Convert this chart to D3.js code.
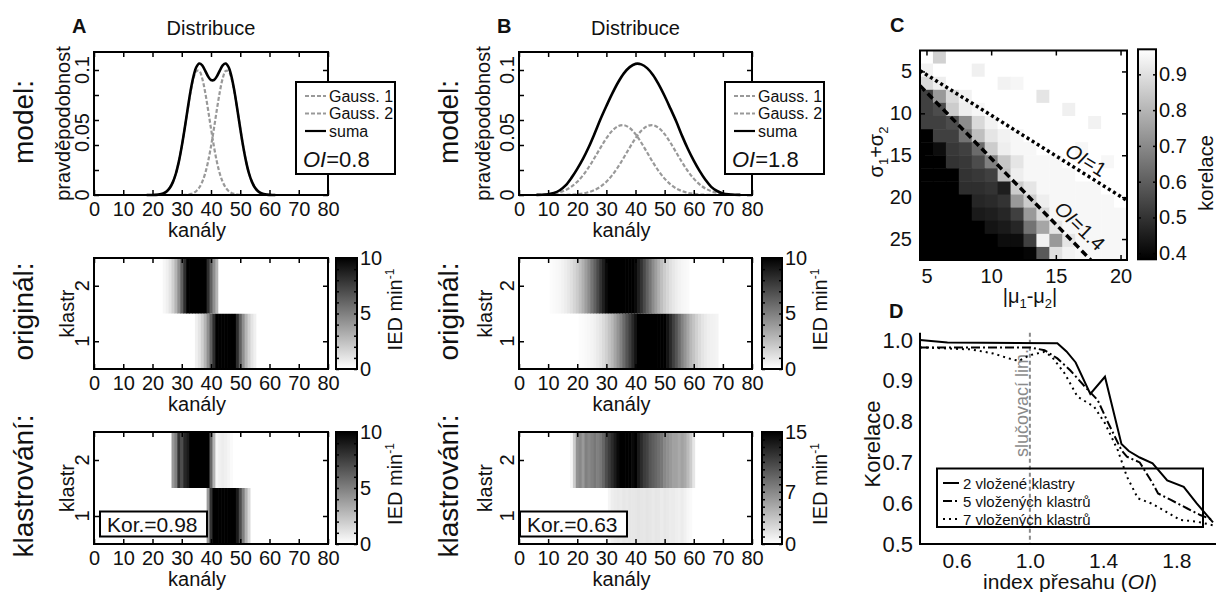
<!DOCTYPE html>
<html>
<head>
<meta charset="utf-8">
<script src="https://cdn.jsdelivr.net/npm/d3@7"></script>
<style>
  body { margin: 0; background: #fff; }
  svg text { font-family: "Liberation Sans", Arial, Helvetica, sans-serif; fill: #111; }
</style>
</head>
<body>
<svg id="fig" width="1218" height="592"></svg>
<script>
const FONT = '"Liberation Sans", Arial, Helvetica, sans-serif';

// ---- A / B: model distributions (pravděpodobnost per kanál) ----
const chanCurveA = d3.range(18, 63);
const gaussA1 = [0, 0, 0, 0.0001, 0.0003, 0.0008, 0.0016, 0.0032, 0.0060, 0.0105, 0.0172, 0.0267, 0.0389, 0.0531, 0.0682,
  0.0823, 0.0932, 0.0992, 0.0992, 0.0932, 0.0823, 0.0682, 0.0531, 0.0389, 0.0267, 0.0172, 0.0105, 0.0060, 0.0032, 0.0016,
  0.0008, 0.0003, 0.0001, 0, 0, 0, 0, 0, 0, 0, 0, 0, 0, 0, 0];
const gaussA2 = [0, 0, 0, 0, 0, 0, 0, 0, 0, 0, 0, 0, 0, 0.0001, 0.0003, 0.0008, 0.0016, 0.0032, 0.0060, 0.0105, 0.0172,
  0.0267, 0.0389, 0.0531, 0.0682, 0.0823, 0.0932, 0.0992, 0.0992, 0.0932, 0.0823, 0.0682, 0.0531, 0.0389, 0.0267, 0.0172,
  0.0105, 0.0060, 0.0032, 0.0016, 0.0008, 0.0003, 0.0001, 0, 0];
const sumA = [0, 0, 0, 0.0001, 0.0003, 0.0008, 0.0016, 0.0032, 0.0060, 0.0105, 0.0172, 0.0267, 0.0389, 0.0532, 0.0685,
  0.0831, 0.0948, 0.1024, 0.1052, 0.1037, 0.0995, 0.0949, 0.0920, 0.0920, 0.0949, 0.0995, 0.1037, 0.1052, 0.1024, 0.0948,
  0.0831, 0.0685, 0.0532, 0.0389, 0.0267, 0.0172, 0.0105, 0.0060, 0.0032, 0.0016, 0.0008, 0.0003, 0.0001, 0, 0];

const chanCurveB = d3.range(6, 77, 2);
const gaussB1 = [0.0001, 0.0003, 0.0006, 0.0012, 0.0023, 0.0040, 0.0067, 0.0106, 0.0159, 0.0224, 0.0300, 0.0379, 0.0454,
  0.0514, 0.0551, 0.0559, 0.0536, 0.0487, 0.0418, 0.0340, 0.0261, 0.0190, 0.0131, 0.0085, 0.0052, 0.0031, 0.0017, 0.0009,
  0.0004, 0.0002, 0.0001, 0, 0, 0, 0, 0];
const gaussB2 = [0, 0, 0, 0, 0.0001, 0.0001, 0.0003, 0.0006, 0.0012, 0.0023, 0.0040, 0.0067, 0.0106, 0.0159, 0.0224,
  0.0300, 0.0379, 0.0454, 0.0514, 0.0551, 0.0559, 0.0536, 0.0487, 0.0418, 0.0340, 0.0261, 0.0190, 0.0131, 0.0085, 0.0052,
  0.0031, 0.0017, 0.0009, 0.0004, 0.0002, 0.0001];
const sumB = [0.0001, 0.0002, 0.0006, 0.0016, 0.0038, 0.0077, 0.0137, 0.0209, 0.0291, 0.0386, 0.0494, 0.0608, 0.0712,
  0.0811, 0.0900, 0.0973, 0.1023, 0.1049, 0.1045, 0.1015, 0.0960, 0.0883, 0.0792, 0.0691, 0.0588, 0.0473, 0.0368, 0.0275,
  0.0193, 0.0122, 0.0065, 0.0032, 0.0013, 0.0005, 0.0002, 0.0001];

// ---- A / B: IED min^-1 per kanál, klastr 1 and klastr 2 ----
const chanHeatA = d3.range(20, 61);
const origA1 = [0, 0, 0, 0, 0, 0, 0, 0, 0, 0, 0, 0, 0, 0, 0, 0.59, 1.07, 1.83, 2.92, 4.38, 6.18, 8.19, 10.19, 11.9, 13.1,
  13.5, 13.1, 11.9, 10.2, 8.2, 6.2, 4.4, 2.9, 1.83, 1.07, 0.59, 0, 0, 0, 0, 0];
const origA2 = [0, 0, 0, 0, 0.31, 0.59, 1.07, 1.83, 2.92, 4.38, 6.18, 8.19, 10.19, 11.9, 13.1, 13.5, 13.1, 11.9, 10.2, 8.2,
  6.2, 4.4, 2.9, 0, 0, 0, 0, 0, 0, 0, 0, 0, 0, 0, 0, 0, 0, 0, 0, 0, 0];
const klastA1 = [0, 0, 0, 0, 0, 0, 0, 0, 0, 0, 0, 0, 0, 0, 0, 0, 0, 0, 0, 4, 8, 12, 12, 12, 12, 12, 12, 12, 11, 9, 7, 5, 3,
  1.5, 0, 0, 0, 0, 0, 0, 0];
const klastA2 = [0, 0, 0, 0, 0, 0, 0, 4, 5, 8, 7, 8.5, 9, 10.5, 12, 12, 12, 12, 12, 10, 6, 3, 0.4, 0.6, 0.7, 0.6, 0.4, 0.2,
  0, 0, 0, 0, 0, 0, 0, 0, 0, 0, 0, 0, 0];

const chanHeatB = d3.range(8, 73);
const origB1 = [0, 0, 0, 0, 0, 0, 0, 0, 0, 0, 0, 0, 0, 0.11, 0.16, 0.22, 0.32, 0.44, 0.6, 0.81, 1.07, 1.4, 1.8, 2.3, 2.8,
  3.5, 4.2, 4.9, 5.8, 6.7, 7.5, 8.4, 9.2, 10.0, 10.6, 11.1, 11.5, 11.7, 11.7, 11.5, 11.1, 10.6, 10.0, 9.2, 8.4, 7.5, 6.7,
  5.8, 4.9, 4.2, 3.5, 2.8, 2.3, 1.8, 1.4, 1.07, 0.81, 0.62, 0.55, 0.5, 0.45, 0, 0, 0, 0];
const origB2 = [0, 0, 0, 0.13, 0.19, 0.27, 0.37, 0.51, 0.7, 0.93, 1.2, 1.6, 2.0, 2.5, 3.1, 3.8, 4.5, 5.4, 6.2, 7.1, 8.0,
  8.8, 9.6, 10.3, 10.9, 11.3, 11.6, 11.7, 11.6, 11.3, 10.9, 10.3, 9.6, 8.8, 8.0, 7.1, 6.2, 5.4, 4.5, 3.8, 3.1, 2.5, 2.0,
  1.6, 1.2, 0.93, 0.7, 0.51, 0.37, 0.27, 0.19, 0, 0, 0, 0, 0, 0, 0, 0, 0, 0, 0, 0, 0, 0];
const klastB1 = [0, 0, 0, 0, 0, 0, 0, 0, 0, 0, 0, 0, 0, 0, 0, 0, 0, 0, 0, 0, 0, 0, 0, 0.6, 1.0, 1.2, 1.3, 1.2, 1.4, 1.3,
  1.5, 1.4, 1.5, 1.6, 1.5, 1.4, 1.6, 1.5, 1.3, 1.5, 1.4, 1.2, 1.4, 1.3, 1.1, 1.2, 1.0, 0.9, 1.1, 0.8, 0.5, 0.3, 0, 0, 0,
  0, 0, 0, 0, 0, 0, 0, 0, 0, 0];
const klastB2 = [0, 0, 0, 0, 0, 0, 0, 0, 0, 0, 0.5, 3, 6.5, 7, 6, 7.5, 7, 7.5, 8, 7.5, 8, 9, 10.5, 11.5, 12.5, 13.5, 14.5,
  15, 15, 15, 15, 14.5, 15, 13.5, 12.5, 11.5, 11, 10, 9.5, 9, 8.5, 8, 7, 6.5, 6, 5.5, 5.5, 5, 5.5, 5, 4, 3, 1.5, 0, 0, 0,
  0, 0, 0, 0, 0, 0, 0, 0, 0];

const channelTicks = [0, 10, 20, 30, 40, 50, 60, 70, 80];
const probLabels = [0, 0.05, 0.1];
const probMarks = [0, 0.02, 0.04, 0.06, 0.08, 0.1];
const clusterTicks = [1, 2];
const iedLabelsA = [0, 5, 10];
const iedLabelsB = [0, 7, 15];

// ---- C: korelace vs |mu1-mu2| and sigma1+sigma2 ----
const muDiff = [5, 6, 7, 8, 9, 10, 11, 12, 13, 14, 15, 16, 17, 18, 19, 20];
const sigmaSum = [3.28, 4.84, 6.41, 7.97, 9.53, 11.09, 12.66, 14.22, 15.78, 17.34, 18.91, 20.47, 22.03, 23.59, 25.16, 26.72];
const korelace = [
  [0.97, 0.864, 0.97, 0.97, 0.97, 0.97, 0.97, 0.97, 0.97, 0.97, 0.97, 0.97, 0.97, 0.97, 0.97, 0.97],
  [0.94, 0.97, 0.97, 0.97, 0.935, 0.97, 0.97, 0.97, 0.97, 0.97, 0.97, 0.97, 0.97, 0.97, 0.97, 0.97],
  [0.882, 0.93, 0.97, 0.97, 0.97, 0.97, 0.941, 0.95, 0.97, 0.97, 0.97, 0.97, 0.97, 0.97, 0.97, 0.97],
  [0.53, 0.735, 0.882, 0.941, 0.97, 0.97, 0.97, 0.97, 0.97, 0.911, 0.97, 0.97, 0.97, 0.97, 0.97, 0.97],
  [0.53, 0.559, 0.853, 0.93, 0.952, 0.97, 0.97, 0.97, 0.97, 0.97, 0.97, 0.935, 0.97, 0.97, 0.97, 0.97],
  [0.53, 0.53, 0.559, 0.706, 0.882, 0.941, 0.97, 0.97, 0.97, 0.97, 0.97, 0.97, 0.97, 0.941, 0.97, 0.97],
  [0.38, 0.53, 0.53, 0.647, 0.823, 0.911, 0.941, 0.952, 0.97, 0.97, 0.97, 0.97, 0.97, 0.97, 0.97, 0.97],
  [0.38, 0.412, 0.512, 0.53, 0.63, 0.853, 0.93, 0.952, 0.952, 0.97, 0.97, 0.97, 0.952, 0.97, 0.97, 0.97],
  [0.38, 0.38, 0.5, 0.512, 0.559, 0.677, 0.84, 0.911, 0.952, 0.952, 0.952, 0.97, 0.97, 0.97, 0.952, 0.97],
  [0.38, 0.38, 0.38, 0.5, 0.512, 0.53, 0.823, 0.93, 0.952, 0.952, 0.952, 0.952, 0.97, 0.97, 0.97, 0.97],
  [0.38, 0.38, 0.38, 0.489, 0.489, 0.5, 0.453, 0.853, 0.911, 0.952, 0.952, 0.952, 0.952, 0.952, 0.97, 0.97],
  [0.38, 0.38, 0.38, 0.38, 0.471, 0.48, 0.5, 0.735, 0.853, 0.93, 0.952, 0.952, 0.952, 0.952, 0.952, 0.97],
  [0.38, 0.38, 0.38, 0.38, 0.442, 0.453, 0.471, 0.53, 0.735, 0.882, 0.952, 0.952, 0.952, 0.952, 0.952, 0.952],
  [0.38, 0.38, 0.38, 0.38, 0.38, 0.43, 0.442, 0.471, 0.647, 0.765, 0.911, 0.952, 0.952, 0.952, 0.952, 0.952],
  [0.38, 0.38, 0.38, 0.38, 0.38, 0.38, 0.412, 0.412, 0.53, 0.941, 0.735, 0.911, 0.952, 0.952, 0.952, 0.952],
  [0.38, 0.38, 0.38, 0.38, 0.38, 0.38, 0.38, 0.38, 0.395, 0.588, 0.899, 0.941, 0.952, 0.952, 0.952, 0.952]
];
const cXTicks = [5, 10, 15, 20];
const cYTicks = [5, 10, 15, 20, 25];
const cBarTicks = [0.4, 0.5, 0.6, 0.7, 0.8, 0.9];
const oi1X = [4.5, 20.5], oi1Y = [4.9, 20.4];
const oi14X = [4.5, 17.7], oi14Y = [6.7, 27.5];

// ---- D: korelace vs index přesahu ----
const solidX = [0.4, 0.55, 1.15, 1.2, 1.25, 1.33, 1.41, 1.5, 1.54, 1.6, 1.67, 1.75, 1.84, 1.91, 2.0];
const solidY = [1.0, 0.994, 0.992, 0.972, 0.945, 0.868, 0.91, 0.745, 0.728, 0.712, 0.698, 0.656, 0.64, 0.6, 0.553];
const dashX = [0.4, 1.0, 1.08, 1.15, 1.22, 1.3, 1.37, 1.42, 1.5, 1.53, 1.6, 1.67, 1.7, 1.77, 1.86, 1.93, 2.0];
const dashY = [0.982, 0.982, 0.975, 0.955, 0.926, 0.886, 0.853, 0.804, 0.73, 0.714, 0.70, 0.649, 0.624, 0.608, 0.587, 0.571, 0.559];
const dotX = [0.4, 0.68, 0.8, 0.9, 0.94, 1.0, 1.08, 1.12, 1.19, 1.26, 1.35, 1.41, 1.48, 1.53, 1.59, 1.66, 1.73, 1.82, 1.91, 2.0];
const dotY = [0.982, 0.977, 0.967, 0.953, 0.949, 0.963, 0.971, 0.959, 0.918, 0.861, 0.837, 0.796, 0.73, 0.665, 0.612, 0.60, 0.583, 0.559, 0.555, 0.546];
const dXTicks = [0.6, 1.0, 1.4, 1.8];
const dYTicks = [0.5, 0.6, 0.7, 0.8, 0.9, 1.0];
const mergeLimit = 1.0;

const svg = d3.select("#fig");
const defs = svg.append("defs");

function box(g, x0, y0, x1, y1, fill) {
  return g.append("rect").attr("x", x0).attr("y", y0).attr("width", x1 - x0).attr("height", y1 - y0)
    .attr("fill", fill || "none").attr("stroke", "#000").attr("stroke-width", 2);
}

function innerTicks(g, scale, orient, pos, values, len) {
  const make = { bottom: d3.axisBottom, top: d3.axisTop, left: d3.axisLeft, right: d3.axisRight }[orient];
  const horiz = orient === "bottom" || orient === "top";
  const a = g.append("g")
    .attr("transform", horiz ? `translate(0,${pos})` : `translate(${pos},0)`)
    .call(make(scale).tickValues(values).tickSize(-len).tickFormat(""));
  a.select(".domain").remove();
  a.selectAll("line").attr("stroke", "#000").attr("stroke-width", 1.5);
}

function labelAxis(g, axis, transform, size) {
  const a = g.append("g").attr("transform", transform).call(axis);
  a.attr("font-family", FONT).attr("font-size", size);
  a.select(".domain").remove();
  a.selectAll("text").attr("fill", "#111");
  return a;
}

function vtext(g, x, y, size) {
  return g.append("text").attr("transform", `translate(${x},${y}) rotate(-90)`)
    .attr("text-anchor", "middle").attr("dy", "0.35em").attr("font-size", size);
}

function colorbar(g, id, x0, x1, y0, y1, dom, colors, labels, marks, fmt) {
  const grad = defs.append("linearGradient").attr("id", id)
    .attr("x1", 0).attr("y1", 1).attr("x2", 0).attr("y2", 0);
  grad.append("stop").attr("offset", 0).attr("stop-color", colors[0]);
  grad.append("stop").attr("offset", 1).attr("stop-color", colors[1]);
  g.append("rect").attr("x", x0).attr("y", y0).attr("width", x1 - x0).attr("height", y1 - y0)
    .attr("fill", `url(#${id})`);
  const cy = d3.scaleLinear().domain(dom).range([y1, y0]);
  innerTicks(g, cy, "left", x0, marks, 3);
  innerTicks(g, cy, "right", x1, marks, 3);
  box(g, x0, y0, x1, y1);
  labelAxis(g, d3.axisRight(cy).tickValues(labels).tickSize(0).tickPadding(3).tickFormat(fmt),
    `translate(${x1},0)`, 20);
}

const rowTop = { y0: 52, y1: 195 };
const rowMid = { y0: 258, y1: 369 };
const rowBot = { y0: 432, y1: 544 };

const panels = [
  { letter: "A", left: 94, right: 328, chanC: chanCurveA, g1: gaussA1, g2: gaussA2, sum: sumA, oi: "0.8", legX: 296,
    chanH: chanHeatA, orig: [origA1, origA2], klast: [klastA1, klastA2], klastMax: 10, klastLabels: iedLabelsA,
    kor: "0.98", korX: 100, cb: [336, 357], ylabTop: 63, ylabHeat: 67 },
  { letter: "B", left: 519, right: 752, chanC: chanCurveB, g1: gaussB1, g2: gaussB2, sum: sumB, oi: "1.8", legX: 725,
    chanH: chanHeatB, orig: [origB1, origB2], klast: [klastB1, klastB2], klastMax: 15, klastLabels: iedLabelsB,
    kor: "0.63", korX: 520, cb: [762, 782], ylabTop: 483, ylabHeat: 485 }
];

function channelAxes(g, p, x, row, xlabel) {
  innerTicks(g, x, "bottom", row.y1, channelTicks, 5);
  innerTicks(g, x, "top", row.y0, channelTicks, 5);
  labelAxis(g, d3.axisBottom(x).tickValues(channelTicks).tickSize(0).tickPadding(7), `translate(0,${row.y1})`, 20);
  if (xlabel) {
    g.append("text").attr("x", (p.left + p.right) / 2 - 14).attr("y", row.y1 + 42)
      .attr("text-anchor", "middle").attr("font-size", 20).text("kanály");
  }
}

function heatRow(g, p, x, row, series, vmax, title, cbId, labels, korText) {
  const y = d3.scaleLinear().domain([0.5, 2.5]).range([row.y1, row.y0]);
  const color = d3.scaleLinear().domain([0, vmax]).range(["#fff", "#000"]).clamp(true);
  const cw = x(1) - x(0);
  series.forEach((vals, k) => {
    g.append("g").selectAll("rect").data(d3.zip(p.chanH, vals)).join("rect")
      .attr("x", d => x(d[0] - 0.5)).attr("width", cw + 0.6)
      .attr("y", y(k + 1.5)).attr("height", y(k + 0.5) - y(k + 1.5))
      .attr("fill", d => color(d[1]));
  });
  box(g, p.left, row.y0, p.right, row.y1);
  innerTicks(g, y, "left", p.left, clusterTicks, 5);
  innerTicks(g, y, "right", p.right, clusterTicks, 5);
  channelAxes(g, p, x, row, true);
  clusterTicks.forEach(v => vtext(g, p.left - 12, y(v), 20).text(v));
  vtext(g, p.ylabHeat, (row.y0 + row.y1) / 2, 20).text("klastr");
  vtext(g, p.left - 71, (row.y0 + row.y1) / 2 - 2, 28).text(title);
  const ticksAll = d3.range(0, vmax + 1);
  colorbar(g, cbId, p.cb[0], p.cb[1], row.y0, row.y1, [0, vmax], ["#fff", "#000"], labels, ticksAll, d3.format("d"));
  const lab = vtext(g, p.cb[1] + 38, (row.y0 + row.y1) / 2 - 4, 20).text("IED min");
  lab.append("tspan").attr("dy", -8).attr("font-size", 12).text("-1");
  if (korText) {
    box(g, p.korX, row.y1 - 32.5, p.korX + 107, row.y1 - 7.5, "#fff");
    g.append("text").attr("x", p.korX + 7).attr("y", row.y1 - 12).attr("font-size", 21).text("Kor.=" + korText);
  }
}

panels.forEach(p => {
  const g = svg.append("g");
  const x = d3.scaleLinear().domain([0, 80]).range([p.left, p.right]);

  // distribution
  const y = d3.scaleLinear().domain([0, 0.1144]).range([rowTop.y1, rowTop.y0]);
  const line = d3.line().x(d => x(d[0])).y(d => y(d[1])).curve(d3.curveCatmullRom);
  [p.g1, p.g2].forEach(s => {
    g.append("path").attr("d", line(d3.zip(p.chanC, s))).attr("fill", "none")
      .attr("stroke", "#999").attr("stroke-width", 2.2).attr("stroke-dasharray", "4,2");
  });
  g.append("path").attr("d", line(d3.zip(p.chanC, p.sum))).attr("fill", "none")
    .attr("stroke", "#000").attr("stroke-width", 2.6);
  box(g, p.left, rowTop.y0, p.right, rowTop.y1);
  innerTicks(g, y, "left", p.left, probMarks, 5);
  innerTicks(g, y, "right", p.right, probMarks, 5);
  channelAxes(g, p, x, rowTop, true);
  probLabels.forEach(v => vtext(g, p.left - 12, y(v), 20).text(v));
  vtext(g, p.ylabTop, (rowTop.y0 + rowTop.y1) / 2, 20).text("pravděpodobnost");
  vtext(g, p.left - 71, 122, 28).text("model:");
  g.append("text").attr("x", (p.left + p.right) / 2).attr("y", 35).attr("text-anchor", "middle")
    .attr("font-size", 20).text("Distribuce");
  g.append("text").attr("x", p.left - 22).attr("y", 33).attr("font-size", 20).attr("font-weight", "bold").text(p.letter);

  // legend
  const lx = p.legX, ly = 82;
  box(g, lx, ly, lx + 99, ly + 92, "#fff");
  const items = [["Gauss. 1", "#999", "4,2"], ["Gauss. 2", "#999", "4,2"], ["suma", "#000", null]];
  items.forEach((it, i) => {
    const yy = 96 + i * 17.5;
    g.append("line").attr("x1", lx + 9).attr("x2", lx + 30).attr("y1", yy).attr("y2", yy)
      .attr("stroke", it[1]).attr("stroke-width", 2.2).attr("stroke-dasharray", it[2]);
    g.append("text").attr("x", lx + 33).attr("y", yy + 5.5).attr("font-size", 16).text(it[0]);
  });
  const oiT = g.append("text").attr("x", lx + 7).attr("y", 167).attr("font-size", 22);
  oiT.append("tspan").attr("font-style", "italic").text("OI");
  oiT.append("tspan").text("=" + p.oi);

  heatRow(g, p, x, rowMid, p.orig, 10, "originál:", "cbo" + p.letter, iedLabelsA, null);
  heatRow(g, p, x, rowBot, p.klast, p.klastMax, "klastrování:", "cbk" + p.letter, p.klastLabels, p.kor);
});

// ---- panel C ----
(function () {
  const g = svg.append("g");
  const L = 920, R = 1127, T = 50.5, Bt = 260;
  const x = d3.scaleLinear().domain([4.5, 20.5]).range([L, R]);
  const y = d3.scaleLinear().domain([2.5, 27.5]).range([T, Bt]);
  const color = d3.scaleLinear().domain([0.383, 0.97]).range(["#000", "#fff"]).clamp(true);
  const dh = sigmaSum[1] - sigmaSum[0];
  const cells = [];
  korelace.forEach((row, r) => row.forEach((v, c) => cells.push({ mx: muDiff[c], sy: sigmaSum[r], v })));
  g.append("g").selectAll("rect").data(cells).join("rect")
    .attr("x", d => x(d.mx - 0.5)).attr("width", x(1) - x(0) + 0.5)
    .attr("y", d => y(d.sy - dh / 2)).attr("height", y(dh) - y(0) + 0.5)
    .attr("fill", d => color(d.v));

  defs.append("clipPath").attr("id", "clipC").append("rect")
    .attr("x", L).attr("y", T).attr("width", R - L).attr("height", Bt - T);
  const line = d3.line().x(d => x(d[0])).y(d => y(d[1]));
  g.append("path").attr("d", line(d3.zip(oi1X, oi1Y))).attr("clip-path", "url(#clipC)")
    .attr("stroke", "#000").attr("stroke-width", 3.5).attr("stroke-dasharray", "3,3").attr("fill", "none");
  g.append("path").attr("d", line(d3.zip(oi14X, oi14Y))).attr("clip-path", "url(#clipC)")
    .attr("stroke", "#000").attr("stroke-width", 3.5).attr("stroke-dasharray", "7,4").attr("fill", "none");

  const t1 = g.append("text").attr("transform", "translate(1086,160) rotate(32)")
    .attr("text-anchor", "middle").attr("dy", "0.35em").attr("font-size", 20);
  t1.append("tspan").attr("font-style", "italic").text("OI");
  t1.append("tspan").text("=1");
  const t2 = g.append("text").attr("transform", "translate(1080,226) rotate(44)")
    .attr("text-anchor", "middle").attr("dy", "0.35em").attr("font-size", 20);
  t2.append("tspan").attr("font-style", "italic").text("OI");
  t2.append("tspan").text("=1.4");

  box(g, L, T, R, Bt);
  innerTicks(g, x, "bottom", Bt, cXTicks, 5);
  innerTicks(g, x, "top", T, cXTicks, 5);
  innerTicks(g, y, "left", L, cYTicks, 5);
  innerTicks(g, y, "right", R, cYTicks, 5);
  labelAxis(g, d3.axisBottom(x).tickValues(cXTicks).tickSize(0).tickPadding(9), `translate(0,${Bt})`, 20);
  labelAxis(g, d3.axisLeft(y).tickValues(cYTicks).tickSize(0).tickPadding(8), `translate(${L},0)`, 20);

  const xl = g.append("text").attr("x", 1030).attr("y", 303).attr("text-anchor", "middle").attr("font-size", 20).text("|μ");
  xl.append("tspan").attr("dy", 5).attr("font-size", 13).text("1");
  xl.append("tspan").attr("dy", -5).attr("font-size", 20).text("-μ");
  xl.append("tspan").attr("dy", 5).attr("font-size", 13).text("2");
  xl.append("tspan").attr("dy", -5).attr("font-size", 20).text("|");
  const yl = vtext(g, 876, 152, 20).text("σ");
  yl.append("tspan").attr("dy", 5).attr("font-size", 13).text("1");
  yl.append("tspan").attr("dy", -5).attr("font-size", 20).text("+σ");
  yl.append("tspan").attr("dy", 5).attr("font-size", 13).text("2");

  colorbar(g, "cbC", 1138, 1156, 49.3, 259.3, [0.383, 0.97], ["#000", "#fff"], cBarTicks, cBarTicks, d3.format(".1f"));
  vtext(g, 1206, 173, 20).text("korelace");
  g.append("text").attr("x", 890).attr("y", 32).attr("font-size", 20).attr("font-weight", "bold").text("C");
})();

// ---- panel D ----
(function () {
  const g = svg.append("g");
  const L = 920, R = 1213, T = 332.7, Bt = 544;
  const x = d3.scaleLinear().domain([0.4, 2.0]).range([L, R]);
  const y = d3.scaleLinear().domain([0.5, 1.018]).range([Bt, T]);
  const line = d3.line().x(d => x(d[0])).y(d => y(d[1]));

  g.append("line").attr("x1", x(mergeLimit)).attr("x2", x(mergeLimit)).attr("y1", T).attr("y2", Bt)
    .attr("stroke", "#8a8a8a").attr("stroke-width", 2).attr("stroke-dasharray", "4,3");
  vtext(g, 1022, 403, 18).style("fill", "#8a8a8a").text("slučovací lim.");

  const series = [
    [solidX, solidY, null, "2 vložené klastry"],
    [dashX, dashY, "9,3,2,3", "5 vložených klastrů"],
    [dotX, dotY, "2,4", "7 vložených klastrů"]
  ];

  // legend box (transparent, curves stay visible through it)
  box(g, 937, 468.5, 1203, 527);
  series.forEach((s, i) => {
    const yy = 483 + i * 18;
    g.append("line").attr("x1", 943).attr("x2", 959).attr("y1", yy).attr("y2", yy)
      .attr("stroke", "#000").attr("stroke-width", 2).attr("stroke-dasharray", s[2]);
    g.append("text").attr("x", 963).attr("y", yy + 5.5).attr("font-size", 15).text(s[3]);
  });

  series.forEach(s => {
    g.append("path").attr("d", line(d3.zip(s[0], s[1]))).attr("fill", "none")
      .attr("stroke", "#000").attr("stroke-width", 2).attr("stroke-dasharray", s[2]);
  });

  g.append("line").attr("x1", L).attr("x2", L).attr("y1", T).attr("y2", Bt + 1).attr("stroke", "#000").attr("stroke-width", 2);
  g.append("line").attr("x1", L - 1).attr("x2", R + 3).attr("y1", Bt).attr("y2", Bt).attr("stroke", "#000").attr("stroke-width", 2);
  labelAxis(g, d3.axisBottom(x).tickValues(dXTicks).tickSize(0).tickPadding(9).tickFormat(d3.format(".1f")),
    `translate(0,${Bt})`, 21);
  labelAxis(g, d3.axisLeft(y).tickValues(dYTicks).tickSize(0).tickPadding(7).tickFormat(d3.format(".1f")),
    `translate(${L},0)`, 22);

  vtext(g, 872, 444, 22).text("Korelace");
  const xl = g.append("text").attr("x", 1070).attr("y", 589).attr("text-anchor", "middle").attr("font-size", 21)
    .text("index přesahu (");
  xl.append("tspan").attr("font-style", "italic").text("OI");
  xl.append("tspan").text(")");

  g.append("text").attr("x", 889).attr("y", 318).attr("font-size", 20).attr("font-weight", "bold").text("D");
})();
</script>
</body>
</html>
